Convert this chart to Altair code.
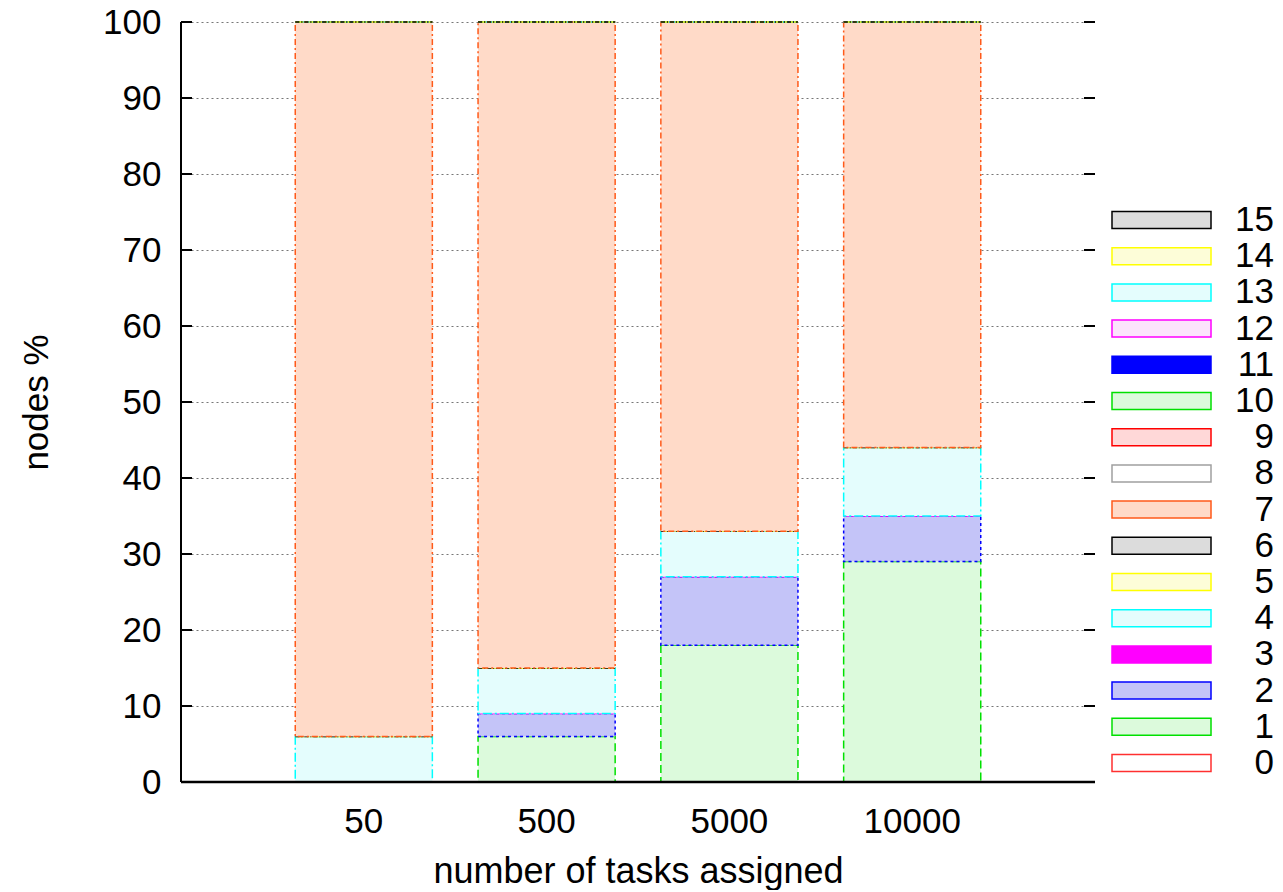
import altair as alt
import pandas as pd

# ---- data ----
tasks = ["50", "500", "5000", "10000"]
categories = list(range(16))
vals_50 = [0, 0, 0, 0, 6, 0, 0, 94, 0, 0, 0, 0, 0, 0, 0, 0]
vals_500 = [0, 6, 3, 0, 6, 0, 0, 85, 0, 0, 0, 0, 0, 0, 0, 0]
vals_5000 = [0, 18, 9, 0, 6, 0, 0, 67, 0, 0, 0, 0, 0, 0, 0, 0]
vals_10000 = [0, 29, 6, 0, 9, 0, 0, 56, 0, 0, 0, 0, 0, 0, 0, 0]
y_ticks = [0, 10, 20, 30, 40, 50, 60, 70, 80, 90, 100]

# ---- styles ----
stroke_colors = ["#ff3030", "#00e000", "#0000ff", "#ff00ff", "#00ffff", "#ffff00",
                 "#000000", "#ff5a1a", "#a0a0a0", "#ff0000", "#00e000", "#0000ff",
                 "#ff00ff", "#00ffff", "#ffff00", "#000000"]
fill_colors = ["#ffffff", "#dcfadc", "#c4c4f8", "#ff00ff", "#e4fdfd", "#fdfdd8",
               "#dcdcdc", "#ffdac8", "#ffffff", "#ffd8d8", "#dcfadc", "#0000ff",
               "#fce4fc", "#e4fdfd", "#fdfdd8", "#dcdcdc"]
dashes = [[1, 0], [8, 4], [3, 3], [1, 0], [9, 3, 2, 3], [6, 3, 2, 3, 2, 3],
          [4, 2, 1, 2], [6, 3, 2, 3], [5, 5], [1, 0], [8, 4], [3, 3],
          [2, 2], [9, 3, 2, 3], [6, 3, 2, 3, 2, 3], [4, 2, 1, 2]]

FONT = "Liberation Sans"
FS = 35

rows = []
for t, vals in zip(tasks, [vals_50, vals_500, vals_5000, vals_10000]):
    for c, v in zip(categories, vals):
        rows.append({"tasks": t, "cat": str(c), "cat_num": c, "value": v})
df = pd.DataFrame(rows)

legend_df = pd.DataFrame({"cat": [str(c) for c in categories],
                          "cat_num": categories,
                          "label": [str(c) for c in categories]})
ticks_df = pd.DataFrame({"t": y_ticks})
frame_df = pd.DataFrame({"lo": [0], "hi": [100]})

cat_dom = [str(c) for c in categories]
fill_scale = alt.Scale(domain=cat_dom, range=fill_colors)
stroke_scale = alt.Scale(domain=cat_dom, range=stroke_colors)
dash_scale = alt.Scale(domain=cat_dom, range=dashes)
yscale = alt.Scale(domain=[0, 100], nice=False, zero=True)
leg_scale = alt.Scale(domain=[-0.525, 20.47], nice=False, zero=False)

bars = alt.Chart(df).mark_bar(strokeWidth=1.5).encode(
    x=alt.X("tasks:N", sort=tasks,
            scale=alt.Scale(paddingInner=0.25, paddingOuter=0.625),
            axis=alt.Axis(title="number of tasks assigned", labelAngle=0, ticks=False,
                          domain=False, labelPadding=22, titlePadding=15,
                          titleFontSize=36)),
    y=alt.Y("value:Q", stack="zero", scale=yscale,
            axis=alt.Axis(values=y_ticks, title="nodes %", grid=True, gridDash=[2, 3],
                          gridColor="#777777", gridWidth=1.2, ticks=False, domain=False,
                          labelPadding=20, titlePadding=48)),
    fill=alt.Fill("cat:N", scale=fill_scale, legend=None),
    stroke=alt.Stroke("cat:N", scale=stroke_scale, legend=None),
    strokeDash=alt.StrokeDash("cat:N", scale=dash_scale, legend=None),
    order=alt.Order("cat_num:Q", sort="ascending"),
)

left_ticks = alt.Chart(ticks_df).mark_rule(color="black", strokeWidth=2).encode(
    x=alt.value(0), x2=alt.value(11),
    y=alt.Y("t:Q", scale=yscale, axis=None))
right_ticks = alt.Chart(ticks_df).mark_rule(color="black", strokeWidth=2).encode(
    x=alt.value(903), x2=alt.value(914),
    y=alt.Y("t:Q", scale=yscale, axis=None))
left_line = alt.Chart(frame_df).mark_rule(color="black", strokeWidth=2).encode(
    x=alt.value(0),
    y=alt.Y("lo:Q", scale=yscale, axis=None), y2="hi:Q")
bottom_line = alt.Chart(frame_df).mark_rule(color="black", strokeWidth=2.5).encode(
    x=alt.value(0), x2=alt.value(914),
    y=alt.Y("lo:Q", scale=yscale, axis=None))

leg_rect = alt.Chart(legend_df).transform_calculate(
    lo="datum.cat_num - 0.235", hi="datum.cat_num + 0.235"
).mark_rect(strokeWidth=1.5).encode(
    x=alt.value(931), x2=alt.value(1030),
    y=alt.Y("lo:Q", scale=leg_scale, axis=None), y2="hi:Q",
    fill=alt.Fill("cat:N", scale=fill_scale, legend=None),
    stroke=alt.Stroke("cat:N", scale=stroke_scale, legend=None),
    strokeDash=alt.StrokeDash("cat:N", scale=dash_scale, legend=None),
)
leg_text = alt.Chart(legend_df).mark_text(
    align="right", baseline="middle", font=FONT, fontSize=FS, color="black"
).encode(
    x=alt.value(1093),
    y=alt.Y("cat_num:Q", scale=leg_scale, axis=None),
    text="label:N",
)

chart = alt.layer(
    bars, left_ticks, right_ticks, left_line, bottom_line, leg_rect, leg_text
).resolve_scale(y="independent").properties(
    width=914, height=760,
    autosize=alt.AutoSizeParams(type="none"),
    padding={"left": 173, "top": 14, "right": 180, "bottom": 108},
).configure_view(stroke=None).configure_axis(
    labelFont=FONT, titleFont=FONT, labelFontSize=FS, titleFontSize=FS,
    labelColor="black", titleColor="black", titleFontWeight="normal",
)

chart.save("out.html", embed_options={"renderer": "svg", "actions": False})
